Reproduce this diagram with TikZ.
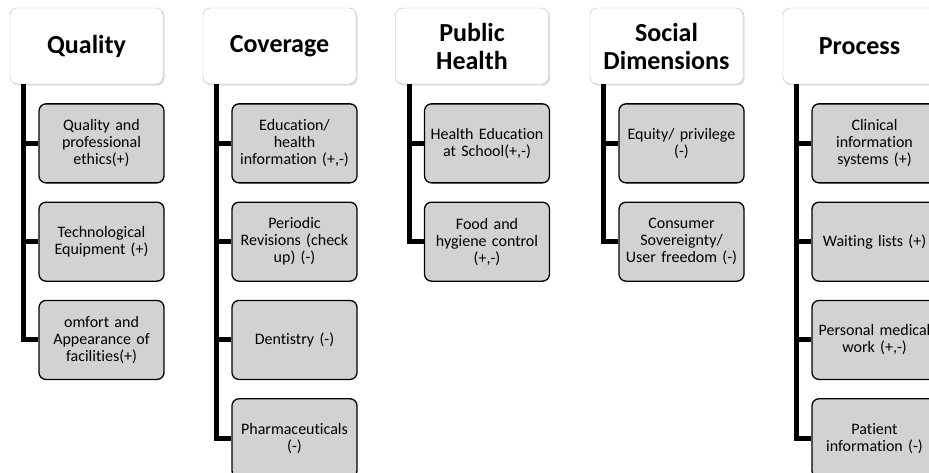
\documentclass[tikz,border=0pt]{standalone}
\usepackage{fontspec}
\setmainfont{Carlito}[Ligatures=NoCommon]
\usetikzlibrary{positioning,shadows}

\tikzset{
  heading/.style={draw=gray!55, fill=white, rounded corners=7pt,
    minimum width=153pt, minimum height=76pt, align=center,
    font=\fontsize{26}{28}\selectfont\bfseries,
    drop shadow={shadow xshift=1.5pt, shadow yshift=-1.5pt, fill=gray!50}},
  item/.style={draw=black, line width=1.3pt, fill=gray!35, rounded corners=7pt,
    text width=119pt, inner sep=3pt, minimum height=79pt, align=center,
    font=\fontsize{16}{17}\selectfont},
  trunk/.style={line width=5pt}
}

\begin{document}
\begin{tikzpicture}[x=1pt, y=-1pt, node distance=18pt]
        \useasboundingbox (0,0) rectangle (929,472);

        % headings
        \node[heading] (quality) at (86.5,46) {Quality};
        \node[heading] (coverage) at (279.5,46) {Coverage};
        \node[heading] (public health) at (472,46) {Public\\Health};
        \node[heading] (social) at (666.5,46) {Social\\Dimensions};
        \node[heading] (process) at (859.5,46) {Process};

        % Quality
        \node[item] (ethics) [below=19pt of quality, xshift=15pt] {Quality and\\professional\\ethics(+)};
        \node[item] (equipment) [below=of ethics] {Technological\\Equipment (+)};
        \node[item] (comfort) [below=of equipment] {omfort and\\Appearance of\\facilities(+)};

        % Coverage
        \node[item] (education) [below=19pt of coverage, xshift=15pt] {Education/\\health\\information (+,-)};
        \node[item] (revisions) [below=of education] {Periodic\\Revisions (check\\up) (-)};
        \node[item] (dentistry) [below=of revisions] {Dentistry (-)};
        \node[item] (pharma) [below=of dentistry] {Pharmaceuticals\\(-)};

        % Public Health
        \node[item] (school) [below=19pt of public health, xshift=15pt] {Health Education\\at School(+,-)};
        \node[item] (hygiene) [below=of school] {Food and\\hygiene control\\(+,-)};

        % Social Dimensions
        \node[item] (equity) [below=19pt of social, xshift=15pt] {Equity/ privilege\\(-)};
        \node[item] (consumer) [below=of equity] {Consumer\\Sovereignty/\\User freedom (-)};

        % Process
        \node[item] (clinical) [below=19pt of process, xshift=15pt] {Clinical\\information\\systems (+)};
        \node[item] (waiting) [below=of clinical] {Waiting lists (+)};
        \node[item] (medical) [below=of waiting] {Personal medical\\work (+,-)};
        \node[item] (patient) [below=of medical] {Patient\\information (-)};

        % connectors
        \draw[trunk] ([xshift=14pt]quality.south west) |- (ethics.west);
        \draw[trunk] ([xshift=14pt]quality.south west) |- (equipment.west);
        \draw[trunk] ([xshift=14pt]quality.south west) |- (comfort.west);
        \draw[trunk] ([xshift=14pt]coverage.south west) |- (education.west);
        \draw[trunk] ([xshift=14pt]coverage.south west) |- (revisions.west);
        \draw[trunk] ([xshift=14pt]coverage.south west) |- (dentistry.west);
        \draw[trunk] ([xshift=14pt]coverage.south west) |- (pharma.west);
        \draw[trunk] ([xshift=14pt]public health.south west) |- (school.west);
        \draw[trunk] ([xshift=14pt]public health.south west) |- (hygiene.west);
        \draw[trunk] ([xshift=14pt]social.south west) |- (equity.west);
        \draw[trunk] ([xshift=14pt]social.south west) |- (consumer.west);
        \draw[trunk] ([xshift=14pt]process.south west) |- (clinical.west);
        \draw[trunk] ([xshift=14pt]process.south west) |- (waiting.west);
        \draw[trunk] ([xshift=14pt]process.south west) |- (medical.west);
        \draw[trunk] ([xshift=14pt]process.south west) |- (patient.west);
\end{tikzpicture}
\end{document}
